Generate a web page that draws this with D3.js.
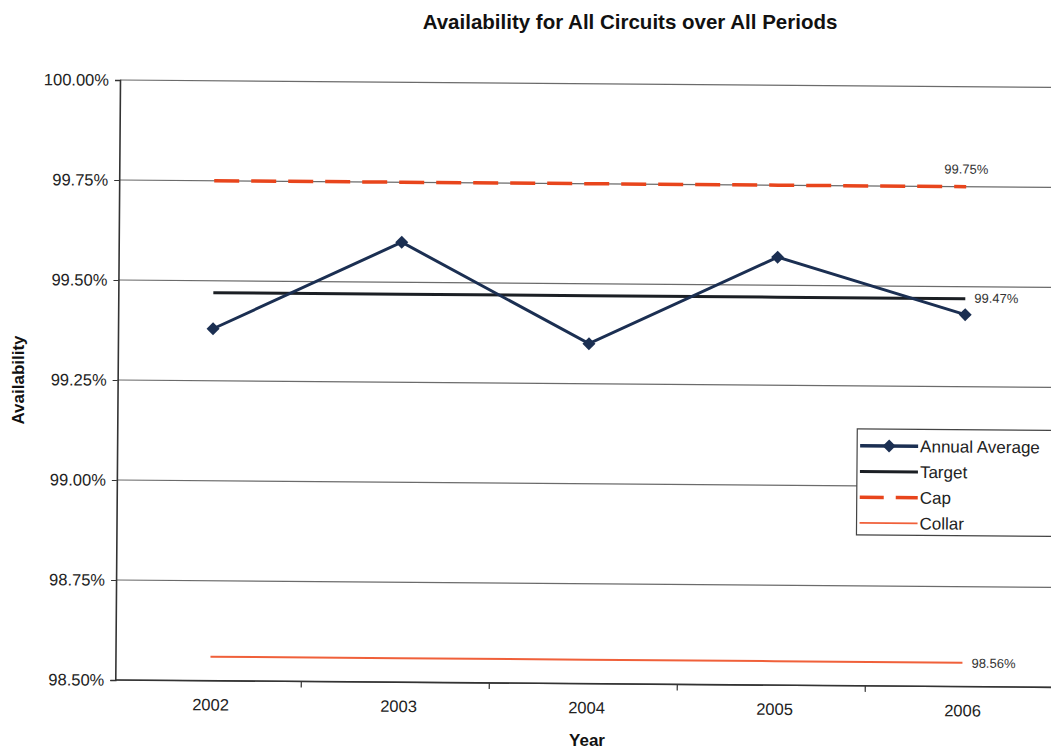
<!DOCTYPE html>
<html><head><meta charset="utf-8">
<script src="https://cdn.jsdelivr.net/npm/d3@7"></script>
<style>html,body{margin:0;padding:0;background:#fff;}svg{display:block;font-family:"Liberation Sans",Arial,sans-serif;}</style>
</head><body>
<svg id="c" width="1051" height="749"></svg>
<script>
const years = ["2002","2003","2004","2005","2006"];
const annualAverage = [99.38, 99.60, 99.35, 99.57, 99.43];
const target = [99.47, 99.47, 99.47, 99.47, 99.47];
const cap = [99.75, 99.75, 99.75, 99.75, 99.75];
const collar = [98.56, 98.56, 98.56, 98.56, 98.56];
const yTicks = [98.5, 98.75, 99.0, 99.25, 99.5, 99.75, 100.0];
const legendLabels = ["Annual Average", "Target", "Cap", "Collar"];

const svg = d3.select("#c");
const L = 120, T = 80, R = 1060, B = 680;
const root = svg.append("g").attr("transform", `rotate(0.45, ${L}, ${T})`);

const x = d3.scalePoint().domain(years).range([L + 1, R + 1]).padding(0.5);
const xb = d3.scaleBand().domain(years).range([L, R]);
const y = d3.scaleLinear().domain([98.5, 100]).range([B, T]);

// gridlines
root.append("g").selectAll("line").data(yTicks).join("line")
  .attr("x1", L).attr("x2", 1080).attr("y1", d => y(d)).attr("y2", d => y(d))
  .attr("stroke", "#6b6b6b").attr("stroke-width", 1.2);

// y axis
const yAxis = d3.axisLeft(y).tickValues(yTicks).tickSize(5).tickPadding(6)
  .tickFormat(d => d3.format(".2f")(d) + "%");
const ya = root.append("g").attr("transform", `translate(${L},0)`).call(yAxis);
ya.select(".domain").attr("stroke", "#333").attr("stroke-width", 1.6);
ya.selectAll(".tick line").attr("stroke", "#333");
ya.selectAll("text").attr("font-size", 16.5).attr("fill", "#222");

// x axis
const xAxis = d3.axisBottom(x).tickSize(0).tickPadding(18);
const xa = root.append("g").attr("transform", `translate(0,${B})`).call(xAxis);
xa.select(".domain").attr("d", `M${L},0H1080`).attr("stroke", "#333").attr("stroke-width", 1.6);
xa.selectAll("text").attr("font-size", 16.5).attr("fill", "#222");
root.append("g").selectAll("line").data(years.slice(1)).join("line")
  .attr("x1", d => xb(d) - 2).attr("x2", d => xb(d) - 2).attr("y1", B).attr("y2", B + 6)
  .attr("stroke", "#333").attr("stroke-width", 1.2);

const line = d3.line().x((d, i) => x(years[i])).y(d => y(d));

root.append("path").datum(collar).attr("d", line).attr("fill", "none")
  .attr("stroke", "#f0603a").attr("stroke-width", 2);
root.append("path").datum(cap).attr("d", line).attr("fill", "none")
  .attr("stroke", "#e8451c").attr("stroke-width", 3.5).attr("stroke-dasharray", "25,12");
root.append("path").datum(target).attr("d", line).attr("fill", "none")
  .attr("stroke", "#1b1f24").attr("stroke-width", 3);
root.append("path").datum(annualAverage).attr("d", line).attr("fill", "none")
  .attr("stroke", "#1b2f52").attr("stroke-width", 3);
const diamond = "M0,-6.5L6.5,0L0,6.5L-6.5,0Z";
root.append("g").selectAll("path").data(annualAverage).join("path")
  .attr("d", diamond)
  .attr("transform", (d, i) => `translate(${x(years[i])},${y(d)})`)
  .attr("fill", "#1b2f52");

// end labels
const lastX = x(years[years.length - 1]);
root.append("text").attr("x", lastX).attr("y", y(cap[4]) - 13).attr("text-anchor", "middle")
  .attr("font-size", 13).attr("fill", "#333").text(d3.format(".2f")(cap[4]) + "%");
root.append("text").attr("x", lastX + 9).attr("y", y(target[4]) + 4)
  .attr("font-size", 13).attr("fill", "#333").text(d3.format(".2f")(target[4]) + "%");
root.append("text").attr("x", lastX + 9).attr("y", y(collar[4]) + 5)
  .attr("font-size", 13).attr("fill", "#333").text(d3.format(".2f")(collar[4]) + "%");

// legend
const lg = root.append("g").attr("transform", "translate(860,423)");
lg.append("rect").attr("x", 0).attr("y", 0).attr("width", 200).attr("height", 106)
  .attr("fill", "#fff").attr("stroke", "#444").attr("stroke-width", 1.2);
const styles = [
  {c: "#1b2f52", w: 3.5, dash: null, marker: true},
  {c: "#1b1f24", w: 3, dash: null},
  {c: "#e8451c", w: 3.5, dash: "24,12"},
  {c: "#f0603a", w: 1.6, dash: null}
];
legendLabels.forEach((lab, i) => {
  const yy = 23 + i * 25.7;
  const s = styles[i];
  lg.append("line").attr("x1", 3).attr("x2", 61).attr("y1", yy - 6).attr("y2", yy - 6)
    .attr("stroke", s.c).attr("stroke-width", s.w).attr("stroke-dasharray", s.dash);
  if (s.marker) lg.append("path").attr("d", diamond).attr("transform", `translate(32,${yy - 6})`).attr("fill", s.c);
  lg.append("text").attr("x", 63).attr("y", yy).attr("font-size", 17).attr("fill", "#222").text(lab);
});

// titles
svg.append("text").attr("x", 630).attr("y", 29).attr("text-anchor", "middle")
  .attr("font-size", 20.5).attr("font-weight", "bold").attr("fill", "#111")
  .text("Availability for All Circuits over All Periods");
svg.append("text").attr("transform", "translate(24,380) rotate(-90)").attr("text-anchor", "middle")
  .attr("font-size", 17).attr("font-weight", "bold").attr("fill", "#111").text("Availability");
svg.append("text").attr("x", 587).attr("y", 746).attr("text-anchor", "middle")
  .attr("font-size", 17).attr("font-weight", "bold").attr("fill", "#111").text("Year");
</script>
</body></html>
